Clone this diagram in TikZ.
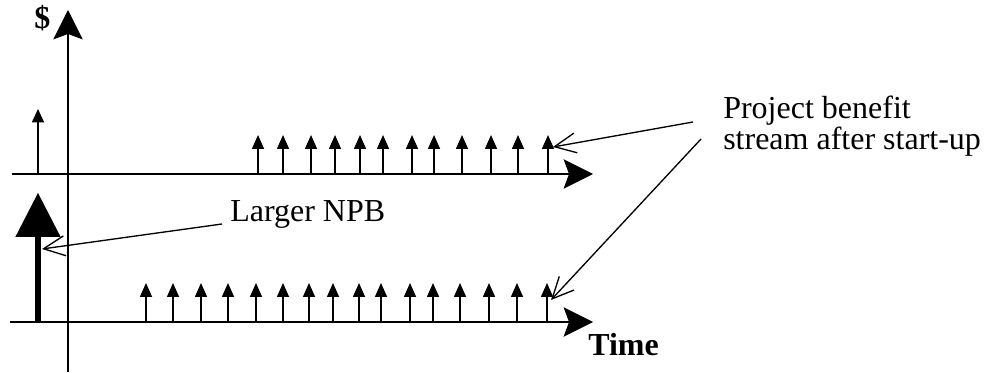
\documentclass[tikz,border=0pt]{standalone}
\usepackage{fontspec}
\setmainfont{Liberation Serif}
\usetikzlibrary{arrows.meta}
\begin{document}
\begin{tikzpicture}[x=0.75pt,y=-0.75pt,
  axis/.style={line width=1.7pt, -{Stealth[length=22pt,width=22pt,inset=4pt]}},
  impulse/.style={line width=1.2pt, -{Triangle[length=10.5pt,width=9pt]}},
  callout/.style={line width=1pt, -{Straight Barb[length=16pt,width=15pt]}},
  lbl/.style={font=\fontsize{24}{17}\selectfont, inner sep=0pt},
  blbl/.style={font=\fontsize{24}{19}\selectfont\bfseries, inner sep=0pt}]
\useasboundingbox (0,0) rectangle (987,373);
% axes
\coordinate (vb) at (68,372);
\coordinate (vt) at (68,10);
\coordinate (h1s) at (12,174);
\coordinate (h1e) at (593,174);
\coordinate (h2s) at (10,322);
\coordinate (h2e) at (593,322);
\draw[axis] (vb) -- (vt);
\draw[axis] (h1s) -- (h1e);
\draw[axis] (h2s) -- (h2e);
% upper impulses
\foreach \x in {258,283,311,335,360,383,412,434,462,491,518,548}
  \draw[impulse] (\x,174) -- (\x,135);
% lower impulses
\foreach \x in {146,173,201,228,256,283,309,333,359,381,410,433,460,489,517,547}
  \draw[impulse] (\x,322) -- (\x,283);
% small initial arrow (upper)
\coordinate (sb) at (38,174);
\coordinate (st) at (38,109);
\draw[line width=0.8pt, -{Triangle[length=10pt,width=9pt]}] (sb) -- (st);
% big initial arrow (lower)
\coordinate (bb) at (38,322);
\coordinate (bt) at (38,193);
\draw[line width=4.5pt, -{Triangle[length=33pt,width=34pt,line width=0pt]}] (bb) -- (bt);
% labels
\node[blbl, anchor=base west] (dollar) at (34,29) {\$};
\node[blbl, anchor=base west] (time) at (588,355) {Time};
\node[lbl, anchor=base west] (npb) at (230,222) {Larger NPB};
\node[lbl, anchor=north west, align=left] (pb) at (723,96) {Project benefit\\stream after start-up};
% callouts
\coordinate (c1) at (693,122);
\coordinate (t1) at (553,147);
\coordinate (c2) at (701,139);
\coordinate (t2) at (551,300);
\coordinate (cn) at (222,224);
\coordinate (tn) at (42,249);
\draw[callout] (c1) -- (t1);
\draw[callout] (c2) -- (t2);
\draw[callout] (cn) -- (tn);
\end{tikzpicture}
\end{document}
